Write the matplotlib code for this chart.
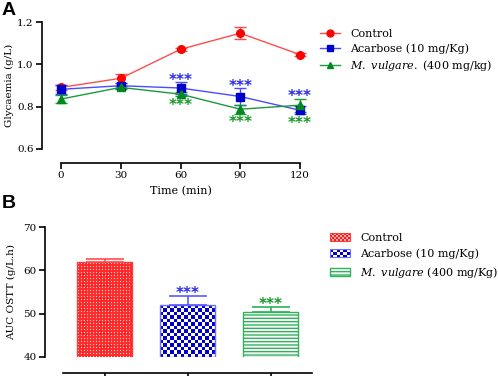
import matplotlib
matplotlib.use("Agg")
import matplotlib.pyplot as plt
import numpy as np
from matplotlib.lines import Line2D
from matplotlib.patches import Rectangle, Patch
from matplotlib.legend_handler import HandlerBase

plt.rcParams['font.family'] = 'DejaVu Serif'
plt.rcParams['mathtext.fontset'] = 'dejavuserif'
plt.rcParams['hatch.linewidth'] = 1.0

# panel A data (glycaemia, g/L)
times = [0, 30, 60, 90, 120]
control = [0.891, 0.934, 1.071, 1.147, 1.046]
control_err = [0.01, 0.02, 0.006, 0.028, 0.008]
acarbose = [0.882, 0.899, 0.888, 0.848, 0.783]
acarbose_err = [0.02, 0.012, 0.028, 0.04, 0.02]
vulgare = [0.836, 0.891, 0.859, 0.788, 0.807]
vulgare_err = [0.018, 0.008, 0.01, 0.022, 0.03]
star_times = [60, 90, 120]

# panel B data (AUC, g/L.h)
groups = ['Control', 'Acarbose (10 mg/Kg)', 'M. vulgare (400 mg/Kg)']
auc = [61.85, 52.0, 50.45]
auc_err = [0.7, 2.15, 1.1]

W, H = 498, 376
PT = 0.72  # points per pixel at 100 dpi
fig = plt.figure(figsize=(W / 100, H / 100), dpi=100)


def px_axes(left, right, top, bottom):
    return fig.add_axes([left / W, 1 - bottom / H, (right - left) / W, (bottom - top) / H])


def style_axes(ax, out_left, out_bottom):
    for s in ['top', 'right']:
        ax.spines[s].set_visible(False)
    ax.spines['left'].set_position(('outward', out_left * PT))
    ax.spines['bottom'].set_position(('outward', out_bottom * PT))
    for s in ['left', 'bottom']:
        ax.spines[s].set_linewidth(1.2)
    ax.tick_params(width=1.2, length=4, labelsize=7.5, pad=2)


# ---------- panel A ----------
ax = px_axes(61, 300, 22, 149)
red, blue, green = '#ff0000', '#0000cc', '#008a1e'
series = [
    (control, control_err, red, '#ff4d4d', 'o', 5.5),
    (acarbose, acarbose_err, blue, '#4a4aff', 's', 5.5),
    (vulgare, vulgare_err, green, '#1a9a3a', '^', 5.5),
]
for vals, err, mc, lc, mk, ms in series:
    ax.errorbar(times, vals, yerr=err, color=lc, ecolor=lc, lw=1.0, elinewidth=1.0,
                capsize=4, capthick=1.0, marker=mk, ms=ms, mfc=mc, mec=mc, clip_on=False)

for t in star_times:
    i = times.index(t)
    top = max(acarbose[i] + acarbose_err[i], vulgare[i] + vulgare_err[i])
    bot = min(acarbose[i] - acarbose_err[i], vulgare[i] - vulgare_err[i])
    ax.annotate('***', (t, top), xytext=(0, -4), textcoords='offset points', ha='center',
                va='bottom', color='#2a2ae6', fontsize=11, fontweight='bold', family='DejaVu Sans')
    ax.annotate('***', (t, bot), xytext=(0, -1), textcoords='offset points', ha='center',
                va='top', color='#129a22', fontsize=11, fontweight='bold', family='DejaVu Sans')

ax.set_xlim(0, 120)
ax.set_ylim(0.6, 1.2)
ax.set_xticks(times)
ax.set_yticks([0.6, 0.8, 1.0, 1.2])
ax.set_yticklabels(['0.6', '0.8', '1.0', '1.2'])
style_axes(ax, 19, 14)
ax.set_ylabel('Glycaemia (g/L)', fontsize=7.5)
ax.yaxis.set_label_coords((14 - 61) / 239, 0.5)
ax.set_xlabel('Time (min)', fontsize=8)
ax.xaxis.set_label_coords(0.5, (149 - 186) / 127)

handles_a = [
    Line2D([], [], color='#ff4d4d', marker='o', ms=5, mfc=red, mec=red, lw=1),
    Line2D([], [], color='#4a4aff', marker='s', ms=5, mfc=blue, mec=blue, lw=1),
    Line2D([], [], color='#1a9a3a', marker='^', ms=5, mfc=green, mec=green, lw=1),
]
labels_a = ['Control', 'Acarbose (10 mg/Kg)', r'$\it{M.\ vulgare.}$ (400 mg/kg)']
fig.legend(handles_a, labels_a, loc='upper left', bbox_to_anchor=(320 / W, 1 - 29 / H),
           frameon=False, fontsize=8, handlelength=1.8, handletextpad=0.9,
           labelspacing=0.38, borderpad=0, borderaxespad=0)

# ---------- panel B ----------
bx = px_axes(63, 312, 227, 357)
xpos = np.arange(len(groups))
edge_cols = ['#ff3a3a', '#7070ff', '#2eb25a']
bars = bx.bar(xpos, np.array(auc) - 40, bottom=40, width=0.67, facecolor='none',
              edgecolor=edge_cols, linewidth=1.0, zorder=2)
bars[2].set_hatch('-----')
bars[2].set_facecolor('white')


def checker(nx, ny, c1, c2):
    a = np.array(matplotlib.colors.to_rgb(c1))
    b = np.array(matplotlib.colors.to_rgb(c2))
    ii, jj = np.meshgrid(np.arange(nx), np.arange(ny))
    mask = ((ii + jj) % 2 == 0)[..., None]
    return np.where(mask, a, b)


def dots(nx, ny, c1, c2):
    # red ground with small light dots every 3 px
    a = np.array(matplotlib.colors.to_rgb(c1))
    b = np.array(matplotlib.colors.to_rgb(c2))
    ii, jj = np.meshgrid(np.arange(nx), np.arange(ny))
    mask = ((ii % 3 == 1) & (jj % 3 == 1))[..., None]
    return np.where(mask, b, a)


fills = [dots(56, 95, '#ff2a2a', '#ffe6e6'), checker(16, 15, '#0000cc', '#ffffff')]
for bar, img in zip(bars[:2], fills):
    x0, y0, w, h = bar.get_x(), bar.get_y(), bar.get_width(), bar.get_height()
    im = bx.imshow(img, extent=[x0, x0 + w, y0, y0 + h],
                   aspect='auto', interpolation='nearest', zorder=1)
    im.set_clip_path(bar)

err_cols = ['#ff4d4d', '#5a5aff', '#2eb25a']
for i in range(len(groups)):
    bx.errorbar(xpos[i], auc[i], yerr=[[0], [auc_err[i]]], color=err_cols[i], lw=1.2,
                capsize=14, capthick=1.2, zorder=3)
star_cols = ['', '#2a2ae6', '#129a22']
for i in [1, 2]:
    bx.annotate('***', (xpos[i], auc[i] + auc_err[i]), xytext=(0, -3.5), textcoords='offset points',
                ha='center', va='bottom', color=star_cols[i], fontsize=11, fontweight='bold',
                family='DejaVu Sans')

bx.set_xlim(-0.5, 2.5)
bx.set_ylim(40, 70)
bx.set_yticks([40, 50, 60, 70])
bx.set_xticks(xpos)
bx.set_xticklabels([])
style_axes(bx, 18, 16)
bx.set_ylabel('AUC OSTT (g/L.h)', fontsize=7.5)
bx.yaxis.set_label_coords((16 - 63) / 249, 0.5)


class HandlerChecker(HandlerBase):
    def __init__(self, nx, ny, c1, c2, ec):
        super().__init__()
        self.nx, self.ny, self.c1, self.c2, self.ec = nx, ny, c1, c2, ec

    def create_artists(self, legend, orig_handle, xdescent, ydescent, width, height, fontsize, trans):
        arts = []
        w, h = width / self.nx, height / self.ny
        for i in range(self.nx):
            for j in range(self.ny):
                c = self.c1 if (i + j) % 2 == 0 else self.c2
                arts.append(Rectangle((-xdescent + i * w, -ydescent + j * h), w, h,
                                      facecolor=c, edgecolor='none', transform=trans))
        arts.append(Rectangle((-xdescent, -ydescent), width, height, facecolor='none',
                              edgecolor=self.ec, lw=0.8, transform=trans))
        return arts


h_red = Patch(facecolor='#ff1a1a')
h_blue = Patch(facecolor='#0000cc')
h_green = Patch(facecolor='white', edgecolor='#2eb25a', hatch='-----')
labels_b = ['Control', 'Acarbose (10 mg/Kg)', r'$\it{M.\ vulgare}$ (400 mg/Kg)']
fig.legend([h_red, h_blue, h_green], labels_b, loc='upper left',
           bbox_to_anchor=(330 / W, 1 - 233 / H), frameon=False, fontsize=8,
           handlelength=1.8, handleheight=0.7, handletextpad=0.9, labelspacing=0.5,
           borderpad=0, borderaxespad=0,
           handler_map={h_red: HandlerChecker(10, 4, '#ff1a1a', '#ffb0b0', '#ff3a3a'),
                        h_blue: HandlerChecker(6, 3, '#0000cc', '#ffffff', '#7070ff')})

fig.text(2 / W, 1 - 2 / H, 'A', fontsize=14, fontweight='bold', family='Liberation Sans',
         va='top', ha='left')
fig.text(2 / W, 1 - 195 / H, 'B', fontsize=14, fontweight='bold', family='Liberation Sans',
         va='top', ha='left')

fig.savefig('out.png', dpi=100)
